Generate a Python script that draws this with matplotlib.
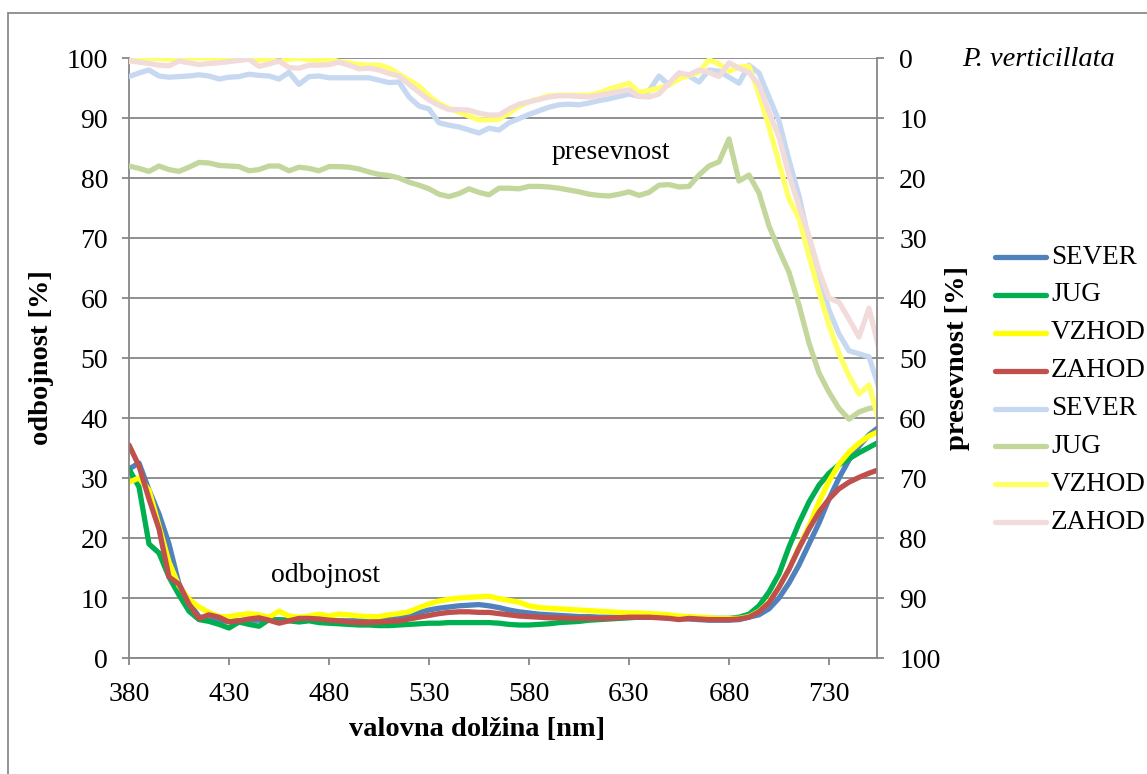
import matplotlib
matplotlib.use("Agg")
import matplotlib.pyplot as plt
from matplotlib.lines import Line2D
from matplotlib.patches import Rectangle

plt.rcParams["font.family"] = ["Liberation Serif", "DejaVu Serif"]

# wavelength grid [nm]
wavelength = list(range(380, 756, 5))

# reflectance (odbojnost) [%], left axis
refl_sever = [31.5, 32.5, 28.0, 24.0, 19.0, 12.3, 9.2, 6.9, 6.3, 6.2,
              6.1, 6.2, 6.3, 6.3, 6.4, 6.4, 6.3, 6.3, 6.4, 6.4,
              6.3, 6.2, 6.2, 6.2, 6.3, 6.5, 6.6, 6.8, 7.2, 7.6,
              8.0, 8.3, 8.5, 8.7, 8.8, 8.9, 8.7, 8.4, 8.0, 7.7,
              7.5, 7.3, 7.2, 7.1, 7.0, 6.9, 6.9, 6.8, 6.8, 6.8,
              6.8, 6.8, 6.8, 6.8, 6.7, 6.6, 6.5, 6.4, 6.3, 6.3,
              6.3, 6.4, 6.8, 7.2, 8.2, 10.0, 12.5, 15.5, 19.0, 22.5,
              26.5, 30.0, 33.0, 35.3, 37.2, 38.5]
refl_jug = [31.5, 28.5, 19.0, 17.5, 13.5, 10.5, 7.8, 6.4, 6.1, 5.6,
            5.0, 6.0, 5.6, 5.3, 6.4, 6.3, 6.2, 6.0, 6.2, 5.9,
            5.8, 5.7, 5.6, 5.5, 5.5, 5.4, 5.4, 5.5, 5.6, 5.7,
            5.8, 5.8, 5.9, 5.9, 5.9, 5.9, 5.9, 5.8, 5.6, 5.5,
            5.5, 5.6, 5.7, 5.9, 6.0, 6.1, 6.3, 6.4, 6.5, 6.6,
            6.7, 6.8, 6.8, 6.8, 6.8, 6.8, 6.8, 6.7, 6.6, 6.6,
            6.6, 6.8, 7.3, 8.7, 11.0, 14.0, 18.5, 22.5, 26.0, 28.8,
            30.8, 32.2, 33.2, 34.2, 35.1, 36.0]
refl_vzhod = [29.3, 30.0, 28.0, 22.0, 16.0, 12.0, 9.8, 8.5, 7.6, 6.9,
              6.9, 7.2, 7.4, 7.2, 6.8, 7.8, 7.0, 6.8, 7.0, 7.3,
              7.0, 7.3, 7.2, 7.0, 6.9, 6.9, 7.2, 7.4, 7.7, 8.4,
              9.0, 9.5, 9.8, 10.0, 10.1, 10.2, 10.3, 9.9, 9.6, 9.3,
              8.7, 8.4, 8.3, 8.2, 8.1, 8.0, 7.9, 7.8, 7.7, 7.6,
              7.5, 7.5, 7.4, 7.3, 7.2, 7.0, 6.9, 6.8, 6.7, 6.6,
              6.6, 6.6, 6.9, 7.8, 9.3, 11.8, 14.8, 18.5, 22.0, 26.0,
              29.5, 32.3, 34.3, 35.8, 37.0, 37.8]
refl_zahod = [35.5, 32.0, 26.5, 21.5, 13.5, 12.3, 9.0, 6.6, 7.2, 6.8,
              6.0, 6.2, 6.5, 6.7, 6.3, 5.8, 6.2, 6.6, 6.6, 6.5,
              6.3, 6.2, 6.0, 5.9, 5.9, 6.0, 6.1, 6.2, 6.5, 6.8,
              7.1, 7.4, 7.6, 7.7, 7.7, 7.6, 7.6, 7.4, 7.2, 7.0,
              6.9, 6.8, 6.7, 6.7, 6.6, 6.6, 6.6, 6.6, 6.6, 6.7,
              6.8, 6.8, 6.8, 6.7, 6.6, 6.4, 6.6, 6.5, 6.4, 6.4,
              6.4, 6.5, 6.8, 7.7, 9.2, 11.8, 14.8, 18.3, 21.5, 24.3,
              26.5, 28.2, 29.3, 30.1, 30.8, 31.4]

# transmittance (presevnost) [%], right axis (inverted)
pres_sever = [3.1, 2.5, 2.0, 3.0, 3.2, 3.1, 3.0, 2.8, 3.0, 3.5,
              3.2, 3.1, 2.7, 2.9, 3.0, 3.5, 2.4, 4.4, 3.1, 3.0,
              3.3, 3.3, 3.3, 3.3, 3.3, 3.7, 4.1, 4.0, 6.5, 8.0,
              8.5, 10.8, 11.2, 11.5, 12.0, 12.5, 11.7, 12.0, 10.8, 10.1,
              9.4, 8.8, 8.2, 7.8, 7.7, 7.8, 7.5, 7.1, 6.8, 6.4,
              6.0, 6.4, 5.5, 3.0, 4.5, 2.5, 3.0, 4.0, 2.0, 2.2,
              3.2, 4.2, 1.2, 2.5, 6.5, 10.5, 17.0, 23.0, 30.5, 36.0,
              42.0, 46.0, 48.8, 49.3, 49.8, 55.0]
pres_jug = [18.0, 18.4, 18.9, 18.0, 18.6, 18.9, 18.2, 17.4, 17.5, 17.9,
            18.0, 18.1, 18.8, 18.6, 18.0, 18.0, 18.8, 18.2, 18.4, 18.8,
            18.1, 18.1, 18.2, 18.5, 19.0, 19.4, 19.6, 20.0, 20.7, 21.2,
            21.8, 22.7, 23.1, 22.6, 21.8, 22.4, 22.8, 21.7, 21.7, 21.8,
            21.4, 21.4, 21.5, 21.7, 22.0, 22.3, 22.7, 22.9, 23.0, 22.7,
            22.3, 22.9, 22.4, 21.2, 21.1, 21.5, 21.4, 19.5, 18.0, 17.3,
            13.5, 20.5, 19.5, 22.5, 28.0, 32.0, 35.7, 41.2, 47.5, 52.5,
            55.7, 58.4, 60.2, 59.0, 58.4, 58.2]
pres_vzhod = [0.6, 0.2, 0.0, 0.1, 0.2, 0.0, 0.0, 0.0, 0.0, 0.1,
              0.0, 0.0, 0.1, 0.3, 0.2, 0.6, 0.2, 0.0, 0.3, 0.4,
              0.2, 0.6, 0.8, 1.1, 1.2, 1.2, 1.7, 2.7, 3.7, 4.7,
              6.3, 7.6, 8.4, 9.0, 9.7, 10.3, 10.3, 10.2, 9.2, 8.1,
              7.3, 6.8, 6.3, 6.2, 6.2, 6.2, 6.2, 5.8, 5.2, 4.7,
              4.2, 5.7, 5.4, 5.0, 4.5, 3.5, 2.9, 2.4, 0.3, 1.0,
              2.2, 1.5, 1.4, 6.0, 11.5, 17.5, 23.5, 26.7, 33.0, 39.0,
              44.5, 49.3, 53.0, 56.0, 54.5, 60.5]
pres_zahod = [0.4, 0.7, 0.9, 1.2, 1.3, 0.5, 0.8, 1.1, 0.9, 0.8,
              0.6, 0.4, 0.2, 1.4, 1.0, 0.5, 1.6, 1.7, 1.2, 1.2,
              1.1, 0.7, 1.2, 1.8, 1.7, 2.0, 2.6, 3.0, 4.4, 5.7,
              7.0, 7.9, 8.6, 8.6, 8.7, 9.2, 9.5, 9.5, 8.5, 7.7,
              7.3, 6.9, 6.5, 6.3, 6.3, 6.4, 6.5, 6.2, 5.9, 5.6,
              5.3, 6.4, 6.5, 6.0, 4.2, 2.5, 2.8, 2.0, 2.4, 3.1,
              0.8, 1.7, 2.4, 4.5, 9.0, 13.2, 19.5, 24.7, 29.7, 35.5,
              40.0, 40.7, 43.5, 46.5, 41.7, 48.5]

labels = ["SEVER", "JUG", "VZHOD", "ZAHOD"]
refl_colors = ["#4F81BD", "#00B050", "#FFFF00", "#C0504D"]
pres_colors = ["#C6D9F1", "#C3D69B", "#FFFF66", "#F2DCDB"]
x_ticks = [380, 430, 480, 530, 580, 630, 680, 730]
y_ticks = list(range(0, 101, 10))

W, H = 1147, 774
GRAY = "#878787"
FS = 20
FS_LEG = 19.5
FS_LAB = 20.5
LW = 3.8


def fx(px):
    return px / W


def fy(py):
    return 1 - py / H


fig = plt.figure(figsize=(W / 100, H / 100), dpi=100)
fig.patches.append(Rectangle((fx(8), fy(H + 20)), fx(W + 20) - fx(8), fy(13) - fy(H + 20),
                             transform=fig.transFigure, fill=False, ec="#8a8a8a", lw=1.3))

ax = fig.add_axes([fx(129), fy(658), fx(877) - fx(129), fy(58) - fy(658)])
ax2 = ax.twinx()

line_kw = dict(lw=LW, solid_capstyle="round", solid_joinstyle="round")
for series, col, lab in zip([refl_sever, refl_jug, refl_vzhod, refl_zahod], refl_colors, labels):
    ax.plot(wavelength, series, color=col, label=lab, **line_kw)
for series, col, lab in zip([pres_sever, pres_jug, pres_vzhod, pres_zahod], pres_colors, labels):
    ax2.plot(wavelength, series, color=col, label=lab, **line_kw)

ax.set_xlim(380, 754)
ax.set_ylim(0, 100)
ax2.set_ylim(100, 0)
ax.set_xticks(x_ticks)
ax.set_yticks(y_ticks)
ax2.set_yticks(y_ticks)

ax.yaxis.grid(True, color=GRAY, lw=1.3)
ax.set_axisbelow(True)

for a in (ax, ax2):
    a.spines["top"].set_visible(False)
    for side in ("left", "right", "bottom"):
        a.spines[side].set_color(GRAY)
        a.spines[side].set_linewidth(1.3)
ax.spines["right"].set_visible(False)
ax2.spines["left"].set_visible(False)
ax2.spines["bottom"].set_visible(False)

ax.tick_params(axis="both", direction="out", length=5, width=1.3, color=GRAY, labelsize=FS)
ax.tick_params(axis="y", pad=10)
ax.tick_params(axis="x", pad=12)
ax2.tick_params(axis="y", direction="out", length=5, width=1.3, color=GRAY, labelsize=FS, pad=11)

fig.text(fx(42), fy(358), "odbojnost [%]", rotation=90, ha="center", va="center",
         fontsize=FS_LAB, fontweight="bold")
fig.text(fx(957), fy(358), "presevnost [%]", rotation=90, ha="center", va="center",
         fontsize=FS_LAB, fontweight="bold")
fig.text(fx(477), fy(729), "valovna dolžina [nm]", ha="center", va="center",
         fontsize=FS_LAB, fontweight="bold")
fig.text(fx(1039), fy(60), "P. verticillata", ha="center", va="center",
         fontsize=20.5, fontstyle="italic")

ax.text(621, 84.2, "presevnost", ha="center", va="center", fontsize=FS)
ax.text(478.5, 13.8, "odbojnost", ha="center", va="center", fontsize=FS)

# legend: reflectance entries followed by transmittance entries
entries = list(zip(labels, refl_colors)) + list(zip(labels, pres_colors))
y0, dy = 257, 37.9
for i, (lab, col) in enumerate(entries):
    y = y0 + i * dy
    fig.add_artist(Line2D([fx(995), fx(1046)], [fy(y), fy(y)], color=col, lw=LW,
                          solid_capstyle="round", transform=fig.transFigure))
    fig.text(fx(1051), fy(y), lab, ha="left", va="center", fontsize=FS_LEG)

fig.savefig("out.png", dpi=100)
